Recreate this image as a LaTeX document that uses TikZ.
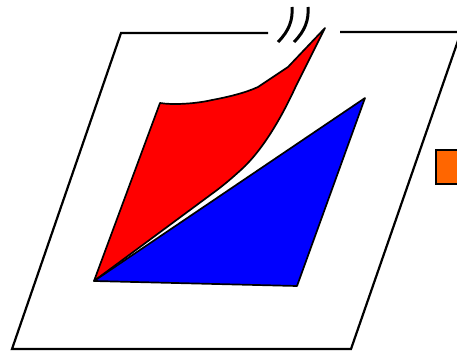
\documentclass[tikz,border=0pt]{standalone}
\begin{document}
\begin{tikzpicture}[x=1pt,y=-1pt,
  plane/.style={line width=2.2pt,black,line cap=butt},
  patch/.style={draw=black,line width=1.7pt,line join=round},
  brk/.style={line width=3pt,black}]
\useasboundingbox (0,0) rectangle (457,355);
\clip (0,0) rectangle (457,355);
% plane outline with a break
\draw[plane,line join=miter] (268,33) -- (121,33) -- (12,349) -- (351,349) -- (461,32) -- (340,32);
% break marks
\draw[brk] (292,7) .. controls (293,20) and (289,31) .. (278,42);
\draw[brk] (308,7) .. controls (309,20) and (305,31) .. (294,42);
% orange box
\draw[line width=2.2pt,black,fill={rgb,255:red,255;green,102;blue,0}] (436,150) rectangle (470,184);
% red patch
\draw[patch,fill=red] (94,281) -- (160,103)
  .. controls (172,105) and (195,104) .. (212,100)
  .. controls (228,97) and (245,93) .. (258,87)
  -- (288,67) -- (325,28) -- (296,86)
  .. controls (284,112) and (266,146) .. (243,168)
  .. controls (232,178) and (224,185) .. (213,193) -- cycle;
% blue patch
\draw[patch,fill=blue] (94,281) -- (365,98) -- (297,286) -- cycle;
\end{tikzpicture}
\end{document}
